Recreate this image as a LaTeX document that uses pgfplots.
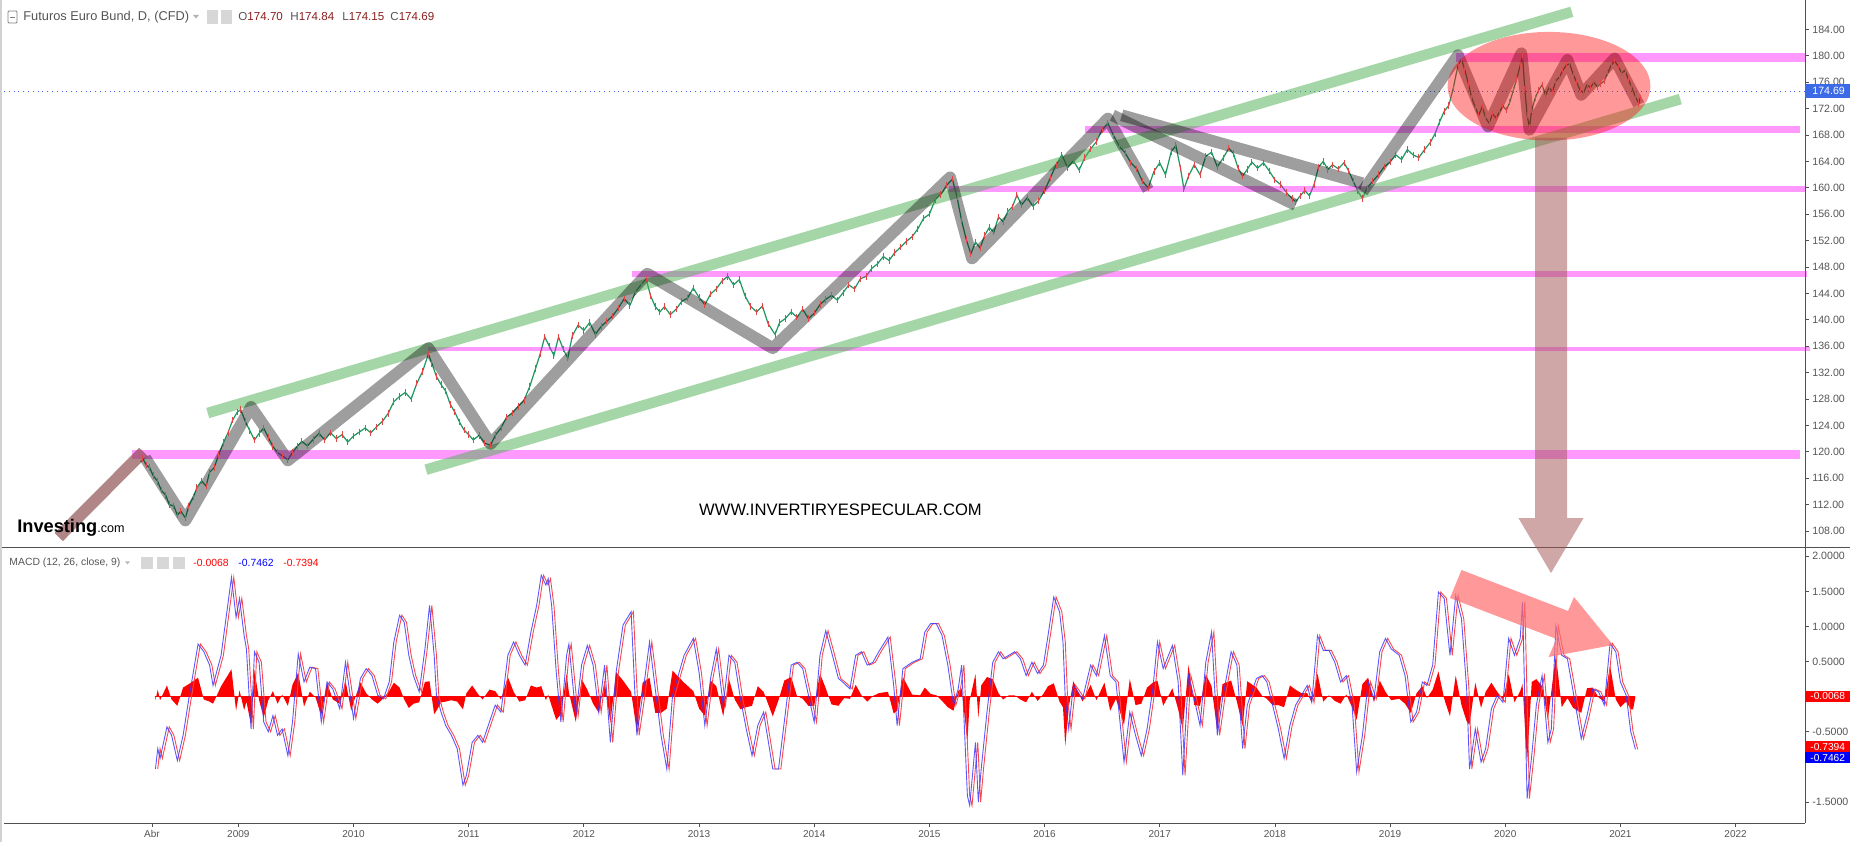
\documentclass[border=0pt]{standalone}
\usepackage{pgfplots}
\pgfplotsset{compat=1.18}
\usepackage{pgfplotstable}
\usepackage{fontspec}
\setmainfont{Liberation Sans}
\definecolor{tvgray}{RGB}{85,85,85}
\definecolor{axgray}{RGB}{80,80,80}
\definecolor{ohlcred}{RGB}{140,30,30}
\definecolor{pricebox}{RGB}{60,105,230}
\definecolor{macdblue}{RGB}{60,60,255}
\definecolor{sigred}{RGB}{255,70,70}
\definecolor{candle}{RGB}{30,150,95}
\definecolor{candlered}{RGB}{225,70,70}
\definecolor{chgreen}{RGB}{76,175,80}
\definecolor{pinkl}{RGB}{255,0,255}
\definecolor{brownl}{RGB}{130,60,60}
\definecolor{bigarrow}{RGB}{160,80,80}
\definecolor{iconbg}{RGB}{215,215,215}
\definecolor{arrowred}{RGB}{255,110,110}

\pgfplotstableread{
x y
2008.17 119.0
2008.20 118.0
2008.23 117.6
2008.26 116.4
2008.30 115.5
2008.33 114.2
2008.37 113.4
2008.40 112.0
2008.44 111.8
2008.47 110.4
2008.50 111.0
2008.54 110.0
2008.57 111.8
2008.61 113.2
2008.64 114.6
2008.68 115.6
2008.72 114.8
2008.75 116.9
2008.79 117.6
2008.83 119.6
2008.87 121.4
2008.91 122.9
2008.95 124.8
2008.99 126.0
2009.02 126.4
2009.06 124.6
2009.10 123.2
2009.14 121.8
2009.18 122.8
2009.22 123.6
2009.26 122.2
2009.30 120.8
2009.34 119.9
2009.38 119.4
2009.43 118.8
2009.47 119.9
2009.51 120.8
2009.55 121.6
2009.60 120.9
2009.65 121.9
2009.70 122.8
2009.75 121.8
2009.80 122.9
2009.85 122.0
2009.90 122.6
2009.95 121.5
2010.00 122.4
2010.05 123.0
2010.10 123.6
2010.15 122.9
2010.20 123.8
2010.25 124.6
2010.30 125.8
2010.35 127.6
2010.40 128.4
2010.45 129.0
2010.50 128.0
2010.55 130.4
2010.60 132.2
2010.65 134.8
2010.68 133.4
2010.72 131.4
2010.76 130.2
2010.80 129.2
2010.84 127.2
2010.88 126.0
2010.92 124.5
2010.96 123.3
2011.00 122.6
2011.04 121.8
2011.09 122.5
2011.14 121.3
2011.19 121.0
2011.23 122.5
2011.28 123.6
2011.33 125.3
2011.38 125.9
2011.43 126.9
2011.48 127.8
2011.53 129.9
2011.58 132.6
2011.62 134.8
2011.66 137.4
2011.70 136.0
2011.74 134.6
2011.78 137.4
2011.82 135.6
2011.86 134.2
2011.90 137.6
2011.95 139.2
2012.00 138.4
2012.05 139.6
2012.10 137.8
2012.15 139.0
2012.20 139.8
2012.25 140.6
2012.30 141.8
2012.35 143.2
2012.40 142.2
2012.45 144.3
2012.50 145.4
2012.54 146.2
2012.58 143.6
2012.62 142.0
2012.66 141.2
2012.70 142.0
2012.75 140.8
2012.80 141.6
2012.85 142.8
2012.90 143.3
2012.95 144.8
2013.00 143.4
2013.05 142.3
2013.10 143.9
2013.15 144.7
2013.20 145.9
2013.25 146.6
2013.30 145.3
2013.35 146.1
2013.40 143.6
2013.45 142.0
2013.50 141.2
2013.55 142.1
2013.60 139.4
2013.66 137.8
2013.70 139.6
2013.75 140.2
2013.80 141.2
2013.85 140.4
2013.90 141.6
2013.95 140.2
2014.00 141.0
2014.05 142.3
2014.10 143.1
2014.15 143.7
2014.20 143.0
2014.25 144.1
2014.30 145.3
2014.35 144.7
2014.40 146.2
2014.45 146.6
2014.50 147.8
2014.55 148.5
2014.60 149.6
2014.65 149.0
2014.70 150.2
2014.75 151.0
2014.80 151.9
2014.85 152.6
2014.90 153.8
2014.95 155.4
2015.00 156.0
2015.05 158.2
2015.10 159.0
2015.15 160.4
2015.20 161.3
2015.24 158.6
2015.28 155.0
2015.32 152.2
2015.36 150.0
2015.40 151.8
2015.44 150.9
2015.48 152.8
2015.52 154.0
2015.56 153.3
2015.60 155.6
2015.64 154.9
2015.68 156.4
2015.72 157.1
2015.76 158.9
2015.80 157.4
2015.85 158.5
2015.90 157.2
2015.95 158.1
2016.00 159.6
2016.05 161.5
2016.10 163.5
2016.15 165.0
2016.20 163.1
2016.25 164.1
2016.30 162.7
2016.35 164.6
2016.40 165.9
2016.45 167.0
2016.50 168.8
2016.55 169.8
2016.60 167.9
2016.65 166.3
2016.70 165.3
2016.75 163.8
2016.80 162.9
2016.85 161.0
2016.90 160.0
2016.95 162.5
2017.00 163.8
2017.05 162.0
2017.10 165.5
2017.14 166.4
2017.18 163.0
2017.21 159.8
2017.25 161.8
2017.30 163.5
2017.35 162.0
2017.40 164.8
2017.45 165.4
2017.50 163.2
2017.55 164.5
2017.60 166.0
2017.64 165.2
2017.68 163.0
2017.72 161.8
2017.76 162.8
2017.80 163.9
2017.85 163.0
2017.90 163.8
2017.95 162.6
2018.00 161.2
2018.05 160.5
2018.10 159.3
2018.15 158.4
2018.18 157.9
2018.22 158.8
2018.26 159.6
2018.30 158.8
2018.34 160.5
2018.38 163.2
2018.42 164.0
2018.46 162.8
2018.50 163.5
2018.55 162.9
2018.60 163.8
2018.64 162.6
2018.68 161.0
2018.72 159.5
2018.76 158.4
2018.80 160.0
2018.85 161.0
2018.90 162.0
2018.95 163.2
2019.00 163.9
2019.05 165.0
2019.10 164.3
2019.15 165.8
2019.20 165.0
2019.25 164.6
2019.30 165.8
2019.35 166.9
2019.39 168.2
2019.43 170.0
2019.47 171.6
2019.51 172.5
2019.55 175.2
2019.59 178.6
2019.62 179.5
2019.65 177.8
2019.68 175.8
2019.71 173.6
2019.74 172.2
2019.77 171.0
2019.80 172.3
2019.83 170.6
2019.86 169.8
2019.89 171.2
2019.92 170.6
2019.95 171.5
2019.98 172.4
2020.01 171.8
2020.04 173.0
2020.07 174.8
2020.10 176.5
2020.13 178.6
2020.15 180.0
2020.17 175.0
2020.19 171.0
2020.21 169.2
2020.23 171.8
2020.26 173.6
2020.29 174.8
2020.32 175.6
2020.35 174.0
2020.38 175.2
2020.41 174.6
2020.44 176.2
2020.47 176.8
2020.50 177.8
2020.53 178.6
2020.56 178.8
2020.59 177.2
2020.62 176.0
2020.65 174.8
2020.68 174.4
2020.71 175.6
2020.74 175.2
2020.77 176.0
2020.80 175.3
2020.83 175.8
2020.86 176.2
2020.89 177.4
2020.92 178.6
2020.95 179.2
2020.98 178.5
2021.01 177.4
2021.04 177.8
2021.07 176.4
2021.10 175.2
2021.13 173.8
2021.16 172.8
2021.17 173.6
}\pricetab

\pgfplotstableread{
x m h
2008.28 -1.03 -0.05
2008.30 -0.74 0.10
2008.32 -0.88 -0.05
2008.38 -0.43 0.16
2008.42 -0.55 -0.04
2008.47 -0.91 -0.13
2008.52 -0.55 0.13
2008.57 -0.03 0.18
2008.65 0.75 0.27
2008.70 0.64 -0.04
2008.75 0.45 -0.07
2008.78 0.16 -0.10
2008.85 0.59 0.15
2008.94 1.70 0.39
2008.98 1.13 -0.20
2009.01 1.40 0.09
2009.05 0.87 -0.19
2009.07 0.68 -0.07
2009.11 -0.46 -0.40
2009.14 0.64 0.38
2009.18 0.49 -0.05
2009.22 -0.36 -0.30
2009.26 -0.50 -0.05
2009.30 -0.27 0.08
2009.34 -0.55 -0.10
2009.38 -0.46 0.03
2009.43 -0.84 -0.13
2009.47 -0.36 0.17
2009.52 0.61 0.34
2009.57 0.21 -0.14
2009.62 0.42 0.07
2009.67 0.40 -0.01
2009.72 -0.36 -0.27
2009.77 0.21 0.20
2009.82 0.11 -0.04
2009.88 -0.17 -0.10
2009.93 0.49 0.23
2009.98 -0.08 -0.20
2010.00 -0.31 -0.08
2010.06 0.26 0.20
2010.11 0.40 0.05
2010.16 0.30 -0.04
2010.21 0.02 -0.10
2010.26 -0.03 -0.02
2010.31 0.21 0.08
2010.35 0.78 0.20
2010.40 1.16 0.13
2010.44 1.06 -0.04
2010.48 0.59 -0.16
2010.52 0.30 -0.10
2010.57 0.07 -0.08
2010.62 0.68 0.21
2010.66 1.30 0.22
2010.70 0.59 -0.25
2010.72 0.02 -0.20
2010.76 -0.22 -0.08
2010.80 -0.41 -0.07
2010.85 -0.55 -0.05
2010.90 -0.74 -0.07
2010.95 -1.26 -0.18
2010.98 -1.12 0.05
2011.03 -0.65 0.16
2011.08 -0.55 0.04
2011.12 -0.65 -0.04
2011.18 -0.36 0.10
2011.23 -0.12 0.08
2011.28 -0.22 -0.04
2011.34 0.59 0.28
2011.39 0.78 0.07
2011.44 0.59 -0.07
2011.49 0.45 -0.05
2011.54 0.92 0.16
2011.59 1.30 0.13
2011.63 1.73 0.15
2011.67 1.59 -0.05
2011.69 1.68 0.03
2011.72 1.30 -0.13
2011.76 0.35 -0.33
2011.80 -0.36 -0.25
2011.85 0.59 0.33
2011.87 0.75 0.06
2011.93 -0.27 -0.36
2011.98 0.45 0.25
2012.03 0.73 0.10
2012.08 0.45 -0.10
2012.13 -0.22 -0.23
2012.18 0.45 0.23
2012.23 -0.65 -0.38
2012.28 0.35 0.35
2012.34 1.02 0.23
2012.41 1.21 0.07
2012.46 -0.55 -0.50
2012.51 0.02 0.20
2012.57 0.78 0.27
2012.62 0.11 -0.23
2012.67 -0.55 -0.23
2012.72 -1.03 -0.17
2012.77 0.02 0.37
2012.87 0.59 0.20
2012.95 0.83 0.08
2013.00 0.35 -0.17
2013.05 -0.41 -0.27
2013.10 0.26 0.23
2013.15 0.68 0.15
2013.21 -0.12 -0.28
2013.26 0.59 0.25
2013.31 0.49 -0.04
2013.36 -0.03 -0.18
2013.41 -0.46 -0.15
2013.46 -0.84 -0.13
2013.51 -0.41 0.15
2013.56 -0.22 0.07
2013.64 -1.03 -0.28
2013.69 -1.03 -0.05
2013.74 -0.36 0.23
2013.80 0.45 0.28
2013.85 0.49 0.01
2013.90 0.40 -0.03
2013.95 0.02 -0.13
2014.00 -0.36 -0.13
2014.05 0.59 0.33
2014.10 0.94 0.12
2014.15 0.64 -0.11
2014.21 0.26 -0.13
2014.26 0.19 -0.02
2014.31 0.11 -0.03
2014.36 0.59 0.17
2014.41 0.64 0.02
2014.46 0.45 -0.07
2014.51 0.49 0.01
2014.56 0.64 0.05
2014.64 0.85 0.07
2014.69 0.16 -0.24
2014.72 -0.41 -0.20
2014.77 0.40 0.28
2014.85 0.49 0.03
2014.92 0.54 0.02
2014.96 0.92 0.13
2015.01 1.04 0.04
2015.06 1.04 0.02
2015.11 0.87 -0.06
2015.16 0.45 -0.15
2015.21 -0.12 -0.20
2015.25 0.11 0.08
2015.28 0.45 0.12
2015.33 -1.41 -0.65
2015.35 -1.55 -0.05
2015.40 -0.65 0.32
2015.425 -1.50 -0.30
2015.45 -1.03 0.16
2015.50 -0.22 0.28
2015.55 0.49 0.25
2015.60 0.64 0.05
2015.64 0.54 -0.04
2015.69 0.59 0.02
2015.74 0.64 0.02
2015.79 0.54 -0.04
2015.84 0.30 -0.08
2015.89 0.49 0.07
2015.94 0.33 -0.06
2015.99 0.45 0.04
2016.03 0.87 0.15
2016.08 1.42 0.19
2016.13 1.21 -0.07
2016.16 0.78 -0.15
2016.18 -0.03 -0.70
2016.21 -0.46 -0.15
2016.25 0.16 0.22
2016.33 -0.03 -0.07
2016.40 0.45 0.17
2016.45 0.30 -0.05
2016.52 0.87 0.20
2016.57 0.30 -0.20
2016.62 0.21 -0.03
2016.69 -0.93 -0.40
2016.74 -0.22 0.25
2016.79 -0.55 -0.12
2016.84 -0.84 -0.10
2016.89 -0.46 0.13
2016.94 0.11 0.20
2016.98 0.78 0.23
2017.03 0.40 -0.13
2017.11 0.73 0.12
2017.16 0.21 -0.18
2017.20 -1.12 -0.47
2017.25 0.30 0.45
2017.30 -0.03 -0.12
2017.35 -0.41 -0.13
2017.40 0.49 0.32
2017.45 0.92 0.15
2017.50 -0.55 -0.50
2017.545 -0.03 0.18
2017.62 0.64 0.23
2017.67 0.45 -0.07
2017.72 -0.74 -0.42
2017.76 -0.12 0.22
2017.84 0.26 0.13
2017.89 0.30 0.01
2017.93 0.21 -0.03
2017.98 -0.12 -0.12
2018.03 -0.46 -0.12
2018.08 -0.88 -0.15
2018.13 -0.41 0.16
2018.18 -0.12 0.10
2018.23 0.02 0.05
2018.28 0.16 0.05
2018.32 -0.08 -0.08
2018.37 0.87 0.33
2018.42 0.66 -0.07
2018.47 0.66 0.02
2018.52 0.49 -0.06
2018.57 0.21 -0.10
2018.62 0.30 0.03
2018.67 -0.12 -0.15
2018.71 -1.07 -0.33
2018.76 -0.55 0.18
2018.81 0.21 0.27
2018.86 -0.03 -0.08
2018.91 0.64 0.23
2018.96 0.83 0.07
2019.01 0.68 -0.05
2019.08 0.59 -0.03
2019.13 0.30 -0.10
2019.18 -0.36 -0.23
2019.23 -0.22 0.05
2019.28 0.21 0.15
2019.32 0.16 -0.02
2019.37 0.45 0.10
2019.42 1.49 0.36
2019.47 1.40 -0.03
2019.52 0.59 -0.28
2019.57 1.44 0.30
2019.62 1.11 -0.12
2019.665 0.11 -0.35
2019.69 -1.03 -0.40
2019.74 -0.46 0.20
2019.79 -0.93 -0.16
2019.83 -0.74 0.07
2019.88 -0.17 0.20
2019.93 0.02 0.07
2019.98 -0.08 -0.04
2020.03 0.83 0.32
2020.08 0.59 -0.08
2020.13 0.83 0.08
2020.15 1.35 0.18
2020.19 -1.45 -0.95
2020.23 -0.84 0.21
2020.27 -0.12 0.25
2020.32 0.30 0.15
2020.37 -0.65 -0.33
2020.40 -0.46 0.07
2020.44 1.01 0.60
2020.49 0.59 -0.15
2020.54 0.54 -0.02
2020.59 0.07 -0.16
2020.66 -0.60 -0.23
2020.71 -0.27 0.12
2020.76 0.11 0.13
2020.81 0.07 -0.01
2020.86 -0.12 -0.07
2020.91 0.76 0.45
2020.96 0.64 -0.04
2021.00 0.21 -0.15
2021.05 0.02 -0.07
2021.09 -0.50 -0.18
2021.11 -0.62 -0.18
2021.13 -0.75 -0.01
}\macdtab

\begin{document}
\begin{tikzpicture}
\path[use as bounding box, fill=white] (0pt,0pt) rectangle (925pt,421pt);

% ---------------- price panel ----------------
\begin{axis}[
  at={(2pt,147.5pt)}, anchor=south west,
  scale only axis, width=900.5pt, height=273.5pt,
  xmin=2006.965, xmax=2022.603, ymin=105.58, ymax=188.47,
  axis x line*=bottom, axis y line*=right,
  axis line style={-, draw=axgray, line width=0.5pt},
  xtick=\empty,
  ytick={108,112,116,120,124,128,132,136,140,144,148,152,156,160,164,168,172,176,180,184},
  yticklabel={\pgfmathprintnumber[fixed,fixed zerofill,precision=2,assume math mode=true]{\tick}},
  tick align=outside, major tick length=2pt,
  tick style={draw=axgray, line width=0.4pt},
  yticklabel style={font=\fontsize{5.3}{6}\selectfont, text=tvgray, inner sep=1.5pt},
  clip=false,
]
\addplot[candle, line width=0.6pt] table[x=x,y=y]{\pricetab};
\addplot[candlered, only marks, mark=|, mark size=1.6pt, mark options={line width=0.45pt}] table[x=x,y=y]{\pricetab};

% current price line
\draw[pricebox, dotted, line width=0.4pt] (axis cs:2006.965,174.69) -- (axis cs:2022.603,174.69);

% pink horizontal levels
\draw[pinkl, opacity=0.4, line width=4.8pt] (axis cs:2008.08,119.6) -- (axis cs:2022.56,119.6);
\draw[pinkl, opacity=0.4, line width=2.2pt] (axis cs:2010.65,135.6) -- (axis cs:2022.65,135.6);
\draw[pinkl, opacity=0.4, line width=3.0pt] (axis cs:2012.42,146.9) -- (axis cs:2022.62,146.9);
\draw[pinkl, opacity=0.4, line width=3.2pt] (axis cs:2015.17,159.8) -- (axis cs:2022.60,159.8);
\draw[pinkl, opacity=0.4, line width=3.6pt] (axis cs:2016.35,168.8) -- (axis cs:2022.56,168.8);
\draw[pinkl, opacity=0.4, line width=4.4pt] (axis cs:2019.57,179.8) -- (axis cs:2022.60,179.8);

% green channel
\draw[chgreen, opacity=0.5, line width=5.3pt] (axis cs:2008.734,125.88) -- (axis cs:2020.578,186.68);
\draw[chgreen, opacity=0.5, line width=5.3pt] (axis cs:2010.629,117.30) -- (axis cs:2021.520,173.45);

% brown lead-in
\draw[brownl, opacity=0.62, line width=5.9pt] (axis cs:2007.44,107.1) -- (axis cs:2008.175,120.0);

% grey zigzag
\draw[black, opacity=0.38, line width=5.9pt, line join=round]
  (axis cs:2008.19,119.1) -- (axis cs:2008.54,109.6) -- (axis cs:2009.11,126.8)
  -- (axis cs:2009.43,118.7) -- (axis cs:2010.65,135.7) -- (axis cs:2011.19,121.2)
  -- (axis cs:2012.55,147.0) -- (axis cs:2013.64,135.7) -- (axis cs:2015.18,161.6)
  -- (axis cs:2015.37,149.3) -- (axis cs:2016.55,170.5) -- (axis cs:2016.90,159.7);
\draw[black, opacity=0.38, line width=5.9pt] (axis cs:2016.59,171.0) -- (axis cs:2018.18,157.4);
\draw[black, opacity=0.38, line width=5.9pt] (axis cs:2016.67,171.0) -- (axis cs:2018.76,160.7);
\draw[black, opacity=0.38, line width=5.9pt, line join=round]
  (axis cs:2018.76,159.4) -- (axis cs:2019.59,180.1) -- (axis cs:2019.85,169.3)
  -- (axis cs:2020.14,180.4) -- (axis cs:2020.21,168.8) -- (axis cs:2020.54,179.4)
  -- (axis cs:2020.66,174.1) -- (axis cs:2020.95,179.6) -- (axis cs:2021.16,172.6);

% red ellipse
\fill[red, opacity=0.4] (axis cs:2020.38,175.4) ellipse [x radius=0.881, y radius=8.23];
\end{axis}

% ---------------- MACD panel ----------------
\begin{axis}[
  at={(2pt,9.5pt)}, anchor=south west,
  scale only axis, width=900.5pt, height=138pt,
  xmin=2006.965, xmax=2022.603, ymin=-1.799, ymax=2.132,
  axis x line*=bottom, axis y line*=right,
  axis line style={-, draw=axgray, line width=0.5pt},
  xtick={2008.25,2009,2010,2011,2012,2013,2014,2015,2016,2017,2018,2019,2020,2021,2022},
  xticklabels={Abr,2009,2010,2011,2012,2013,2014,2015,2016,2017,2018,2019,2020,2021,2022},
  ytick={-1.5,-0.5,0.5,1,1.5,2},
  yticklabel={\pgfmathprintnumber[fixed,fixed zerofill,precision=4,assume math mode=true]{\tick}},
  tick align=outside, major tick length=2pt,
  tick style={draw=axgray, line width=0.4pt},
  yticklabel style={font=\fontsize{5.3}{6}\selectfont, text=tvgray, inner sep=1.5pt},
  xticklabel style={font=\fontsize{5}{6}\selectfont, text=tvgray, inner sep=1.5pt},
  clip=true,
]
\addplot[draw=none, fill=red] table[x=x,y=h]{\macdtab} \closedcycle;
\draw[red, line width=0.6pt] (axis cs:2008.28,0) -- (axis cs:2021.13,0);
\addplot[sigred, line width=0.45pt] table[x expr=\thisrow{x}+0.02, y=m]{\macdtab};
\addplot[macdblue, opacity=0.85, line width=0.45pt] table[x=x,y=m]{\macdtab};
\end{axis}

% separator and frame
\draw[axgray, line width=0.5pt] (0pt,147.5pt) -- (925pt,147.5pt);
\draw[gray!35, line width=1pt] (0.5pt,0pt) -- (0.5pt,421pt);

% big vertical arrow
\fill[bigarrow, opacity=0.5] (767.5pt,352pt) -- (783.5pt,352pt) -- (783.5pt,162pt)
  -- (791.8pt,162pt) -- (775.5pt,134.5pt) -- (759.2pt,162pt) -- (767.5pt,162pt) -- cycle;

% red arrow in MACD panel
\fill[arrowred, opacity=0.7]
  (730.75pt,136pt) -- (784pt,115.5pt) -- (787pt,122.5pt) -- (806.5pt,98.5pt)
  -- (774.3pt,92.5pt) -- (778.15pt,101.55pt) -- (725pt,122pt) -- cycle;

% price label box
\fill[pricebox] (902.5pt,372.2pt) rectangle (925pt,378.8pt);
\node[font=\fontsize{5.3}{6}\selectfont, text=white, anchor=west, inner sep=0pt] at (906pt,375.5pt) {174.69};

% MACD label boxes
\fill[red] (902.5pt,70.25pt) rectangle (925pt,75.75pt);
\node[font=\fontsize{5.1}{6}\selectfont, text=white, anchor=west, inner sep=0pt] at (905pt,73pt) {-0.0068};
\fill[red] (902.5pt,45pt) rectangle (925pt,50.5pt);
\node[font=\fontsize{5.1}{6}\selectfont, text=white, anchor=west, inner sep=0pt] at (905pt,47.75pt) {-0.7394};
\fill[blue] (902.5pt,39.5pt) rectangle (925pt,45pt);
\node[font=\fontsize{5.1}{6}\selectfont, text=white, anchor=west, inner sep=0pt] at (905pt,42.25pt) {-0.7462};

% header price panel
\draw[gray, line width=0.4pt, rounded corners=0.5pt] (4pt,409.5pt) rectangle (8.5pt,415.5pt);
\draw[gray, line width=0.4pt] (5pt,412.5pt) -- (7.5pt,412.5pt);
\node[font=\fontsize{6.4}{7}\selectfont, text=tvgray, anchor=west, inner sep=0pt] at (11.5pt,412.5pt) {Futuros Euro Bund, D, (CFD)};
\fill[gray!60] (96.5pt,413.5pt) -- (99.5pt,413.5pt) -- (98pt,411.8pt) -- cycle;
\fill[iconbg] (103.5pt,409.2pt) rectangle (109pt,415.8pt);
\fill[iconbg] (110.5pt,409.2pt) rectangle (116pt,415.8pt);
\node[font=\fontsize{5.8}{7}\selectfont, anchor=west, inner sep=0pt] at (119pt,412.5pt) {\textcolor{tvgray}{O}\textcolor{ohlcred}{174.70}};
\node[font=\fontsize{5.8}{7}\selectfont, anchor=west, inner sep=0pt] at (145pt,412.5pt) {\textcolor{tvgray}{H}\textcolor{ohlcred}{174.84}};
\node[font=\fontsize{5.8}{7}\selectfont, anchor=west, inner sep=0pt] at (171pt,412.5pt) {\textcolor{tvgray}{L}\textcolor{ohlcred}{174.15}};
\node[font=\fontsize{5.8}{7}\selectfont, anchor=west, inner sep=0pt] at (195pt,412.5pt) {\textcolor{tvgray}{C}\textcolor{ohlcred}{174.69}};

% header MACD panel
\node[font=\fontsize{5.2}{6}\selectfont, text=tvgray, anchor=west, inner sep=0pt] at (4.5pt,139.5pt) {MACD (12, 26, close, 9)};
\fill[gray!55] (62.5pt,140.3pt) -- (65pt,140.3pt) -- (63.75pt,138.8pt) -- cycle;
\fill[iconbg] (70.5pt,136.5pt) rectangle (76.5pt,142.5pt);
\fill[iconbg] (78.5pt,136.5pt) rectangle (84.5pt,142.5pt);
\fill[iconbg] (86.5pt,136.5pt) rectangle (92.5pt,142.5pt);
\node[font=\fontsize{5.2}{6}\selectfont, text=red, anchor=west, inner sep=0pt] at (96.5pt,139.5pt) {-0.0068};
\node[font=\fontsize{5.2}{6}\selectfont, text=blue, anchor=west, inner sep=0pt] at (119pt,139.5pt) {-0.7462};
\node[font=\fontsize{5.2}{6}\selectfont, text=red, anchor=west, inner sep=0pt] at (141.5pt,139.5pt) {-0.7394};

% logo and watermark
\node[anchor=base west, inner sep=0pt] at (8.5pt,155pt) {\fontsize{9.1}{10}\selectfont\bfseries Investing\fontsize{6.3}{7}\selectfont\mdseries .com};
\node[font=\fontsize{8.3}{9}\selectfont, text=black, inner sep=0pt] at (420.25pt,166pt) {WWW.INVERTIRYESPECULAR.COM};
\end{tikzpicture}
\end{document}
